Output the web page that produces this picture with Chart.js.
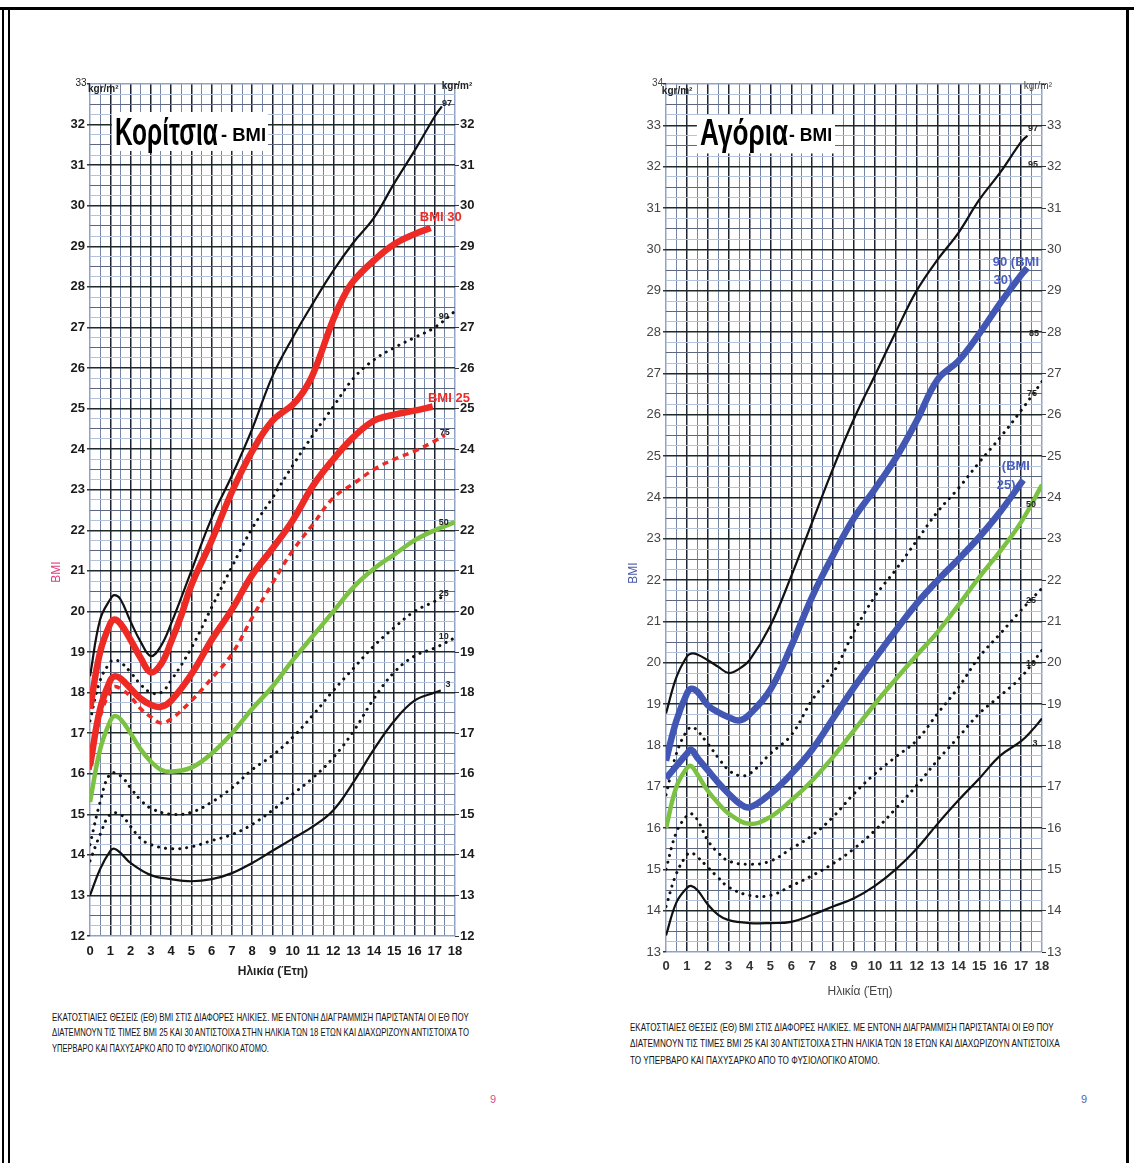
<!DOCTYPE html>
<html><head><meta charset="utf-8">
<script src="https://cdn.jsdelivr.net/npm/chart.js@4.4.1/dist/chart.umd.min.js"></script>
<style>
html,body{margin:0;padding:0;background:#fff;width:1134px;height:1163px;overflow:hidden;position:relative;font-family:'Liberation Sans Narrow','Liberation Sans',Arial,sans-serif;}
.box{position:absolute;}
.frame{position:absolute;background:#000;}
.cap{position:absolute;white-space:nowrap;font-size:11px;color:#111;transform-origin:0 50%;line-height:14px;}
.pg{position:absolute;font-size:11px;}
</style></head><body>
<div class="frame" style="left:0;top:7px;width:1134px;height:3px"></div>
<div class="frame" style="left:2px;top:7px;width:2px;height:1156px"></div>
<div class="frame" style="left:8px;top:7px;width:2px;height:1156px"></div>
<div class="frame" style="left:1126px;top:7px;width:3px;height:1156px"></div>
<div class="box" style="left:40px;top:60px;width:450px;height:940px"><canvas id="girls"></canvas></div>
<div class="box" style="left:616px;top:60px;width:461px;height:960px"><canvas id="boys"></canvas></div>

<div class="cap" data-w="417" style="left:52px;top:1010px">ΕΚΑΤΟΣΤΙΑΙΕΣ ΘΕΣΕΙΣ (ΕΘ) BMI ΣΤΙΣ ΔΙΑΦΟΡΕΣ ΗΛΙΚΙΕΣ. ΜΕ ΕΝΤΟΝΗ ΔΙΑΓΡΑΜΜΙΣΗ ΠΑΡΙΣΤΑΝΤΑΙ ΟΙ ΕΘ ΠΟΥ</div>
<div class="cap" data-w="417" style="left:52px;top:1025px">ΔΙΑΤΕΜΝΟΥΝ ΤΙΣ ΤΙΜΕΣ BMI 25 ΚΑΙ 30 ΑΝΤΙΣΤΟΙΧΑ ΣΤΗΝ ΗΛΙΚΙΑ ΤΩΝ 18 ΕΤΩΝ ΚΑΙ ΔΙΑΧΩΡΙΖΟΥΝ ΑΝΤΙΣΤΟΙΧΑ ΤΟ</div>
<div class="cap" data-w="217" style="left:52px;top:1041px">ΥΠΕΡΒΑΡΟ ΚΑΙ ΠΑΧΥΣΑΡΚΟ ΑΠΟ ΤΟ ΦΥΣΙΟΛΟΓΙΚΟ ΑΤΟΜΟ.</div>
<div class="cap" data-w="424" style="left:630px;top:1020px">ΕΚΑΤΟΣΤΙΑΙΕΣ ΘΕΣΕΙΣ (ΕΘ) BMI ΣΤΙΣ ΔΙΑΦΟΡΕΣ ΗΛΙΚΙΕΣ. ΜΕ ΕΝΤΟΝΗ ΔΙΑΓΡΑΜΜΙΣΗ ΠΑΡΙΣΤΑΝΤΑΙ ΟΙ ΕΘ ΠΟΥ</div>
<div class="cap" data-w="430" style="left:630px;top:1036px">ΔΙΑΤΕΜΝΟΥΝ ΤΙΣ ΤΙΜΕΣ BMI 25 ΚΑΙ 30 ΑΝΤΙΣΤΟΙΧΑ ΣΤΗΝ ΗΛΙΚΙΑ ΤΩΝ 18 ΕΤΩΝ ΚΑΙ ΔΙΑΧΩΡΙΖΟΥΝ ΑΝΤΙΣΤΟΙΧΑ</div>
<div class="cap" data-w="250" style="left:630px;top:1053px">ΤΟ ΥΠΕΡΒΑΡΟ ΚΑΙ ΠΑΧΥΣΑΡΚΟ ΑΠΟ ΤΟ ΦΥΣΙΟΛΟΓΙΚΟ ΑΤΟΜΟ.</div>
<div class="pg" style="left:490px;top:1093px;color:#d8508f">9</div>
<div class="pg" style="left:1081px;top:1093px;color:#5565a5">9</div>

<script>
// ---------------- DATA ----------------
const ageTicksMajor = [0,1,2,3,4,5,6,7,8,9,10,11,12,13,14,15,16,17,18];

// Girls (Κορίτσια)
const gAgeP3  = [0,0.5,1,1.2,1.5,2,3,4,5,6,7,8,9,10,11,12,13,14,15,16,17,17.3];
const gP3     = [13.0,13.65,14.1,14.15,14.05,13.8,13.5,13.4,13.35,13.4,13.55,13.8,14.1,14.4,14.7,15.1,15.8,16.6,17.3,17.8,18.0,18.05];
const gAgeP10 = [0,0.5,1,1.5,2,2.5,3,4,5,6,7,8,9,10,11,12,13,14,15,16,17,18];
const gP10    = [13.85,14.5,15.0,15.0,14.7,14.4,14.25,14.15,14.2,14.35,14.5,14.75,15.1,15.5,15.9,16.4,17.05,17.85,18.5,18.9,19.1,19.35];
const gAgeP25 = [0,0.5,1,1.5,2,2.5,3,4,5,6,7,8,9,10,11,12,13,14,15,16,17,17.5];
const gP25    = [14.25,15.3,16.0,15.95,15.65,15.35,15.15,15.0,15.05,15.3,15.65,16.1,16.45,16.9,17.45,18.05,18.6,19.15,19.6,20.0,20.25,20.4];
const gAgeP50 = [0,0.5,1,1.2,1.5,2,2.5,3,3.5,4,5,6,7,8,9,10,11,12,13,14,15,16,17,18];
const gP50    = [15.3,16.6,17.3,17.42,17.35,17.0,16.6,16.3,16.1,16.05,16.15,16.5,17.0,17.6,18.15,18.8,19.4,20.0,20.6,21.05,21.4,21.75,22.0,22.2];
const gAgeP75 = [0,0.5,1,1.2,1.5,2,2.5,3,3.5,4,5,6,7,8,9,10,11,12,13,14,15,16,17,17.5];
const gP75    = [16.1,17.4,18.05,18.15,18.1,17.9,17.6,17.4,17.25,17.35,17.8,18.35,18.95,19.85,20.7,21.5,22.15,22.8,23.15,23.5,23.75,23.95,24.2,24.35];
const gAgeP90 = [0,0.5,1,1.2,1.5,2,2.5,3,3.5,4,5,6,7,8,9,10,11,12,13,14,15,16,17,18];
const gP90    = [17.3,18.3,18.75,18.8,18.75,18.5,18.2,18.0,18.0,18.3,19.1,20.1,21.1,22.05,22.8,23.6,24.35,25.05,25.75,26.2,26.5,26.75,27.0,27.4];
const gAgeP97 = [0,0.5,1,1.2,1.5,2,2.5,3,3.5,4,5,6,7,8,9,10,11,12,13,14,15,16,17,17.35];
const gP97    = [18.4,19.8,20.3,20.4,20.3,19.75,19.25,18.9,19.15,19.7,21.0,22.3,23.35,24.5,25.8,26.75,27.6,28.4,29.1,29.7,30.55,31.35,32.2,32.45];
const gAgeB25 = [0,0.5,1,1.2,1.5,2,2.5,3,3.5,4,5,6,7,8,9,10,11,12,13,14,15,16,16.9];
const gBMI25  = [16.2,17.6,18.3,18.4,18.35,18.1,17.85,17.7,17.65,17.8,18.45,19.3,20.05,20.9,21.55,22.25,23.1,23.75,24.3,24.7,24.85,24.95,25.05];
const gAgeB30 = [0,0.5,1,1.2,1.5,2,2.5,3,3.5,4,4.5,5,6,7,8,9,10,10.5,11,12,12.5,13,14,15,16,16.8];
const gBMI30  = [17.6,19.0,19.7,19.8,19.7,19.3,18.85,18.5,18.7,19.25,19.9,20.65,21.75,22.95,23.95,24.7,25.1,25.4,25.85,27.2,27.75,28.15,28.65,29.05,29.3,29.45];

// Boys (Αγόρια)
const bAgeP3  = [0,0.5,1,1.2,1.5,2,2.5,3,4,5,6,7,8,9,10,11,12,13,14,15,16,17,17.5,18];
const bP3     = [13.4,14.2,14.55,14.6,14.5,14.15,13.9,13.77,13.7,13.7,13.73,13.9,14.1,14.3,14.6,15.0,15.5,16.1,16.67,17.2,17.75,18.1,18.35,18.65];
const bAgeP10 = [0,0.5,1,1.2,1.5,2,2.5,3,4,5,6,7,8,9,10,11,12,13,14,15,16,17,18];
const bP10    = [14.1,14.9,15.35,15.4,15.3,15.05,14.8,14.57,14.37,14.37,14.6,14.85,15.14,15.5,15.94,16.47,17.03,17.64,18.2,18.77,19.2,19.65,20.3];
const bAgeP25 = [0,0.5,1,1.2,1.5,2,2.5,3,4,5,6,7,8,9,10,11,12,13,14,15,16,17,18];
const bP25    = [15.0,15.9,16.3,16.35,16.2,15.7,15.4,15.2,15.12,15.2,15.5,15.82,16.27,16.83,17.31,17.72,18.12,18.77,19.4,20.14,20.7,21.27,21.8];
const bAgeP50 = [0,0.5,1,1.2,1.5,2,2.5,3,4,5,6,7,8,9,10,11,12,13,14,15,16,17,18];
const bP50    = [16.0,17.0,17.45,17.5,17.3,16.9,16.6,16.35,16.1,16.27,16.67,17.15,17.72,18.36,19.0,19.6,20.18,20.74,21.39,22.07,22.7,23.4,24.3];
const bAgeP75 = [0,0.5,1,1.3,2,2.5,3,3.5,4,5,6,7,8,9,10,11,12,13,14,15,16,17,18];
const bP75    = [16.8,17.8,18.35,18.44,18.04,17.7,17.4,17.27,17.31,17.8,18.25,19.1,19.75,20.75,21.6,22.25,22.95,23.65,24.22,24.85,25.45,26.1,26.8];
const bAgeP97 = [0,0.5,1,1.2,1.5,2,2.5,3,3.5,4,5,6,7,8,9,10,11,12,13,14,15,16,17,17.3];
const bP97    = [18.77,19.65,20.15,20.22,20.2,20.06,19.9,19.75,19.85,20.06,20.9,22.1,23.4,24.7,25.9,26.95,28.0,29.0,29.75,30.4,31.2,31.86,32.6,32.75];
const bAgeB25 = [0,0.5,1,1.2,1.5,2,2.5,3,3.5,4,5,6,7,8,9,10,11,12,13,14,15,16,17.1];
const bBMI25  = [17.2,17.5,17.8,17.9,17.7,17.4,17.1,16.83,16.6,16.5,16.83,17.31,17.9,18.65,19.4,20.1,20.78,21.43,21.99,22.5,23.04,23.65,24.42];
const bAgeB30 = [0,0.5,1,1.2,1.5,2,2.5,3,3.5,4,5,6,7,8,9,10,11,12,13,14,15,16,17,17.3];
const bBMI30  = [17.63,18.6,19.25,19.37,19.3,18.97,18.8,18.68,18.6,18.75,19.35,20.4,21.6,22.6,23.5,24.2,24.95,25.85,26.85,27.3,27.96,28.7,29.38,29.55];

// curve-end labels: [text, age, bmi]
const gCurveLabels = [['97',17.6,32.53],['90',17.45,27.28],['75',17.5,24.4],['50',17.45,22.18],['25',17.45,20.43],['10',17.45,19.37],['3',17.65,18.19]];
const gBmiLabels   = [['BMI 30',17.3,29.7],['BMI 25',17.7,25.24]];
const bCurveLabels = [['97',17.57,32.93],['95',17.57,32.04],['85',17.62,27.97],['75',17.52,26.5],['50',17.47,23.82],['25',17.47,21.5],['10',17.47,19.99],['3',17.66,18.05]];
const bBmiLabels   = [['90 (BMI',16.75,29.69],['30)',16.13,29.25],['(BMI',16.75,24.75],['25)',16.28,24.29]];

// ---------------- HELPERS ----------------
const FONT = "'Liberation Sans Narrow','Liberation Sans',Arial,sans-serif";
function pts(ages, vals){ return ages.map((a,i)=>({x:a,y:vals[i]})); }
const ST = {
  solid:  {borderColor:'#111', borderWidth:2.2, order:3},
  dotted: {borderColor:'#111', borderWidth:3, borderDash:[0.1,7], borderCapStyle:'round', order:3},
  green:  {borderColor:'#7cc242', borderWidth:4.5, order:1},
  red:    {borderColor:'#ee2a24', borderWidth:6.5, order:0},
  redDash:{borderColor:'#ee2a24', borderWidth:3.5, borderDash:[6,5], order:2},
  blue:   {borderColor:'#4257b4', borderWidth:6.5, order:0}
};
function ds(label, ages, vals, style){
  return Object.assign({label, data:pts(ages,vals), pointRadius:0, fill:false, tension:0.4}, style);
}

const isInt = v => Math.abs(v-Math.round(v))<1e-6;
const isHalf = v => Math.abs(v*2-Math.round(v*2))<1e-6 && !isInt(v);

const labelPlugin = {
  id:'labels',
  afterDraw(chart, args, opts){
    const ctx=chart.ctx, sx=chart.scales.x, sy=chart.scales.y;
    ctx.save();
    (opts.boxes||[]).forEach(b=>{
      const x0=sx.getPixelForValue(b[0]), x1=sx.getPixelForValue(b[1]);
      const y0=sy.getPixelForValue(b[2]), y1=sy.getPixelForValue(b[3]);
      ctx.fillStyle='#fff'; ctx.fillRect(x0,y0,x1-x0,y1-y0);
    });
    (opts.items||[]).forEach(it=>{
      const px=sx.getPixelForValue(it.x), py=sy.getPixelForValue(it.y);
      ctx.save(); ctx.translate(px,py); if(it.rot) ctx.rotate(it.rot);
      ctx.font=it.f; ctx.fillStyle=it.c||'#111';
      ctx.textAlign=it.a||'center'; ctx.textBaseline=it.b||'middle';
      if(it.w){ const m=ctx.measureText(it.t).width; if(m>0) ctx.scale(it.w/m,1); }
      ctx.fillText(it.t,0,0); ctx.restore();
    });
    ctx.restore();
  }
};

function makeChart(id, cfg){
  const tickFont = {family:FONT, size:13, weight:cfg.tickWeight};
  const xFont = {family:FONT, size:13, weight:'bold'};
  const yTicks = {stepSize:0.25, autoSkip:false, padding:cfg.ypad, color:cfg.tickColor, font:tickFont,
    callback:v=> (isInt(v) && v<cfg.ymax) ? String(Math.round(v)) : ''};
  const hColor = c=>{const v=c.tick.value; if(v<=cfg.ymin+1e-6||v>=cfg.ymax-1e-6) return '#8fa3c6'; return isInt(v)?'#1f2b2b':(isHalf(v)?'#5d6880':'#b3c3dc');};
  const hWidth = c=>{const v=c.tick.value; return isInt(v)?1.5:1;};
  return new Chart(document.getElementById(id), {
    type:'line',
    data:{datasets:cfg.datasets},
    options:{
      responsive:true, maintainAspectRatio:false, animation:false, devicePixelRatio:1,
      layout:{padding:{top:24,left:0,right:0,bottom:0}},
      plugins:{legend:{display:false}, tooltip:{enabled:false}, labels:{items:cfg.items, boxes:cfg.boxes}},
      scales:{
        x:{type:'linear', min:0, max:18, afterFit:s=>{s.height=cfg.xh;}, border:{display:false},
          grid:{drawTicks:false,
            color:c=>{const v=c.tick.value; if(v<=0||v>=18) return '#8fa3c6'; return isInt(v)?'#1c2230':'#7485a6';},
            lineWidth:c=>isInt(c.tick.value)?1.5:1},
          ticks:{stepSize:0.5, autoSkip:false, maxRotation:0, minRotation:0, padding:cfg.xpad, color:cfg.xTickColor, font:xFont,
            callback:v=> ageTicksMajor.includes(v) ? String(v) : ''}},
        y:{type:'linear', position:'left', min:cfg.ymin, max:cfg.ymax, afterFit:s=>{s.width=50;}, border:{display:false},
          grid:{color:hColor, lineWidth:hWidth, drawTicks:true, tickLength:3,
            tickColor:c=>isInt(c.tick.value)?'#2a3a3a':'rgba(0,0,0,0)'},
          ticks:yTicks},
        y2:{type:'linear', position:'right', min:cfg.ymin, max:cfg.ymax, afterFit:s=>{s.width=35;}, border:{display:false},
          grid:{drawOnChartArea:false, drawTicks:true, tickLength:4,
            color:c=>isInt(c.tick.value)?'#333':'rgba(0,0,0,0)'},
          ticks:Object.assign({}, yTicks, {padding:1})}
      }
    },
    plugins:[labelPlugin]
  });
}

// ---------------- GIRLS ----------------
const gItems = [];
gCurveLabels.forEach(l=>gItems.push({t:l[0], x:l[1], y:l[2], f:`bold 9px ${FONT}`, c:'#222'}));
gBmiLabels.forEach(l=>gItems.push({t:l[0], x:l[1], y:l[2], f:`bold 13px ${FONT}`, c:'#ee2a24'}));
gItems.push({t:'Κορίτσια', x:1.23, y:31.5, f:`bold 38px ${FONT}`, c:'#000', a:'left', b:'alphabetic', w:103});
gItems.push({t:'- BMI', x:6.46, y:31.6, f:`bold 19px ${FONT}`, c:'#000', a:'left', b:'alphabetic', w:45});
gItems.push({t:'33', x:-0.44, y:33.02, f:`10px ${FONT}`, c:'#222'});
gItems.push({t:'kgr/m²', x:-0.1, y:32.87, f:`bold 10px ${FONT}`, c:'#222', a:'left'});
gItems.push({t:'kgr/m²', x:18.1, y:32.95, f:`bold 10px ${FONT}`, c:'#222'});
gItems.push({t:'Ηλικία (Έτη)', x:9.02, y:11.11, f:`bold 12px ${FONT}`, c:'#222'});
gItems.push({t:'BMI', x:-1.63, y:20.97, f:`12px ${FONT}`, c:'#e0407f', rot:-Math.PI/2});

makeChart('girls', {
  ymin:12, ymax:33, xh:64, xpad:8, ypad:2, tickWeight:'bold', tickColor:'#1a1a1a', xTickColor:'#1a1a1a',
  items:gItems, boxes:[[1.08,8.78,32.31,31.35]],
  datasets:[
    ds('BMI 30', gAgeB30, gBMI30, ST.red),
    ds('BMI 25', gAgeB25, gBMI25, ST.red),
    ds('P50', gAgeP50, gP50, ST.green),
    ds('P75', gAgeP75, gP75, ST.redDash),
    ds('P3', gAgeP3, gP3, ST.solid),
    ds('P10', gAgeP10, gP10, ST.dotted),
    ds('P25', gAgeP25, gP25, ST.dotted),
    ds('P90', gAgeP90, gP90, ST.dotted),
    ds('P97', gAgeP97, gP97, ST.solid)
  ]
});

// ---------------- BOYS ----------------
const bItems = [];
bCurveLabels.forEach(l=>bItems.push({t:l[0], x:l[1], y:l[2], f:`bold 9px ${FONT}`, c:'#222'}));
bBmiLabels.forEach(l=>bItems.push({t:l[0], x:l[1], y:l[2], f:`bold 13px ${FONT}`, c:'#4a5fc0'}));
bItems.push({t:'Αγόρια', x:1.63, y:32.52, f:`bold 36px ${FONT}`, c:'#000', a:'left', b:'alphabetic', w:88});
bItems.push({t:'- BMI', x:5.89, y:32.62, f:`bold 19px ${FONT}`, c:'#000', a:'left', b:'alphabetic', w:43});
bItems.push({t:'34', x:-0.4, y:34.02, f:`10px ${FONT}`, c:'#444'});
bItems.push({t:'kgr/m²', x:-0.2, y:33.82, f:`bold 10px ${FONT}`, c:'#222', a:'left'});
bItems.push({t:'kgr/m²', x:17.8, y:33.95, f:`10px ${FONT}`, c:'#444'});
bItems.push({t:'Ηλικία (Έτη)', x:9.29, y:12.05, f:`12px ${FONT}`, c:'#444'});
bItems.push({t:'BMI', x:-1.53, y:22.17, f:`12px ${FONT}`, c:'#4a5aa8', rot:-Math.PI/2});

makeChart('boys', {
  ymin:13, ymax:34, xh:68, xpad:7, ypad:2, tickWeight:'normal', tickColor:'#444', xTickColor:'#333',
  items:bItems, boxes:[[1.48,8.09,33.25,32.32]],
  datasets:[
    ds('90 (BMI 30)', bAgeB30, bBMI30, ST.blue),
    ds('BMI 25', bAgeB25, bBMI25, ST.blue),
    ds('P50', bAgeP50, bP50, ST.green),
    ds('P3', bAgeP3, bP3, ST.solid),
    ds('P10', bAgeP10, bP10, ST.dotted),
    ds('P25', bAgeP25, bP25, ST.dotted),
    ds('P75', bAgeP75, bP75, ST.dotted),
    ds('P97', bAgeP97, bP97, ST.solid)
  ]
});

// fit caption lines to their widths
document.querySelectorAll('.cap').forEach(el=>{
  const w=+el.dataset.w, m=el.scrollWidth; if(m>0) el.style.transform=`scaleX(${w/m})`;
});
</script>
</body></html>
